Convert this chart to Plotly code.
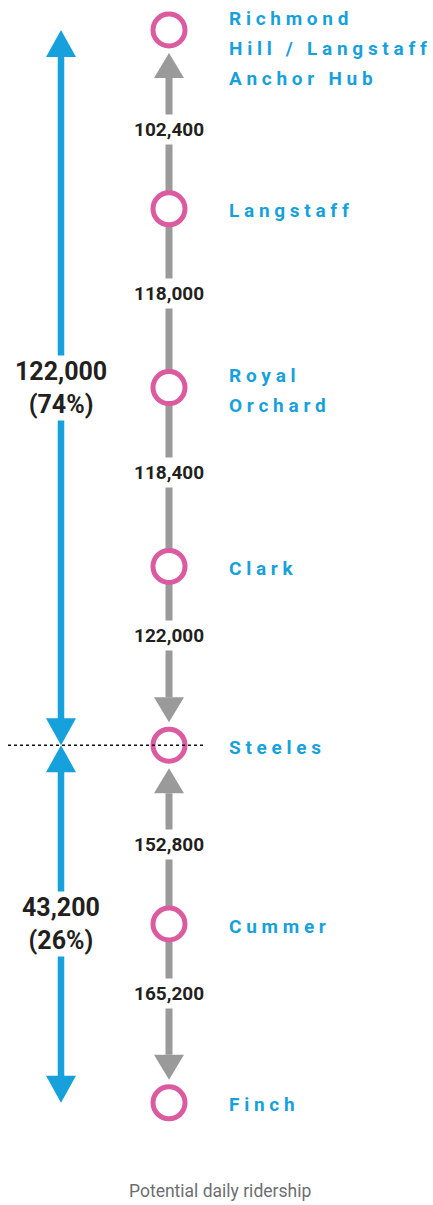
import plotly.graph_objects as go

# ---------------- data ----------------
stations = ["Richmond Hill / Langstaff Anchor Hub", "Langstaff", "Royal Orchard",
            "Clark", "Steeles", "Cummer", "Finch"]
station_label_lines = [["Richmond", "Hill / Langstaff", "Anchor Hub"], ["Langstaff"],
                       ["Royal", "Orchard"], ["Clark"], ["Steeles"], ["Cummer"], ["Finch"]]
segment_ridership = [102400, 118000, 118400, 122000, 152800, 165200]
segment_arrow = ["up", None, None, "down", "up", "down"]  # arrowhead end of each segment
split_station = "Steeles"
group_ridership = [122000, 43200]
group_share = [74, 26]
caption = "Potential daily ridership"

# ---------------- style ----------------
W, H = 433, 1205
TOP_PX, STEP_PX = 30, 178.8
LINE_X, GROUP_X, LABEL_X = 169, 61, 227
GRAY, BLUE, PINK, DARK = "#9A9A9B", "#17A1DC", "#DB5AA0", "#231F20"
FONT = "Roboto"


def u(px):
    return px / STEP_PX


fig = go.Figure()


def triangle(x, tip_y, direction, half_w, h_px, color):
    base = tip_y + u(h_px) if direction == "up" else tip_y - u(h_px)
    fig.add_trace(go.Scatter(x=[x - half_w, x + half_w, x, x - half_w],
                             y=[base, base, tip_y, base], mode="lines",
                             fill="toself", fillcolor=color, line=dict(width=0, color=color),
                             hoverinfo="skip", showlegend=False))


n = len(stations)
ys = list(range(n))
split_idx = stations.index(split_station)

# gray segments with arrows
seg_label_y = []
for i, val in enumerate(segment_ridership):
    ya, yb = ys[i], ys[i + 1]
    arrow = segment_arrow[i]
    top = ya + u(48) if arrow == "up" else ya
    bot = yb - u(48) if arrow == "down" else yb
    fig.add_trace(go.Scatter(x=[LINE_X, LINE_X], y=[top, bot], mode="lines",
                             line=dict(color=GRAY, width=7), hoverinfo="skip", showlegend=False))
    if arrow == "up":
        triangle(LINE_X, ya + u(23), "up", 15, 25, GRAY)
    elif arrow == "down":
        triangle(LINE_X, yb - u(23), "down", 15, 25, GRAY)
    s_top = ya + u(48) if arrow == "up" else ya + u(18)
    s_bot = yb - u(48) if arrow == "down" else yb - u(18)
    seg_label_y.append((s_top + s_bot) / 2 - u(5))

# blue group arrows
group_spans = [(ys[0], ys[split_idx]), (ys[split_idx], ys[-1])]
for (a, b) in group_spans:
    fig.add_trace(go.Scatter(x=[GROUP_X, GROUP_X], y=[a + u(26), b - u(26)], mode="lines",
                             line=dict(color=BLUE, width=6.5), hoverinfo="skip", showlegend=False))
    triangle(GROUP_X, a, "up", 15, 27, BLUE)
    triangle(GROUP_X, b, "down", 15, 27, BLUE)

# stations
fig.add_trace(go.Scatter(x=[LINE_X] * n, y=ys, mode="markers",
                         marker=dict(size=32, color="white", line=dict(color=PINK, width=5)),
                         hoverinfo="skip", showlegend=False))

# dashed split line
fig.add_trace(go.Scatter(x=[8, 205], y=[ys[split_idx]] * 2, mode="lines",
                         line=dict(color="#111111", width=1.5, dash="3px,3px"),
                         hoverinfo="skip", showlegend=False))

# ---------------- annotations ----------------
for val, y in zip(segment_ridership, seg_label_y):
    fig.add_annotation(x=LINE_X, y=y, text=f"{val:,}", showarrow=False,
                       font=dict(family=FONT, size=19, color=DARK, weight="bold"),
                       bgcolor="white", borderpad=3, xanchor="center", yanchor="middle")

for (a, b), val, share in zip(group_spans, group_ridership, group_share):
    fig.add_annotation(x=GROUP_X, y=(a + b) / 2, text=f"{val:,}<br>({share}%)", showarrow=False,
                       font=dict(family=FONT, size=25, color=DARK, weight="bold"),
                       bgcolor="white", borderpad=1, xanchor="center", yanchor="middle")


def spaced(s):
    return "\u00a0\u00a0\u00a0".join(" ".join(list(w)) for w in s.split(" "))


for y, lines in zip(ys, station_label_lines):
    first = u(2) if len(lines) == 1 else -u(12)
    for k, line in enumerate(lines):
        fig.add_annotation(x=LABEL_X, y=y + first + k * u(30), text=spaced(line), showarrow=False,
                           font=dict(family=FONT, size=19, color=BLUE, weight="bold"),
                           xanchor="left", yanchor="middle")

fig.add_annotation(x=220, y=u(1191 - TOP_PX), text=caption, showarrow=False,
                   font=dict(family=FONT, size=17.5, color="#6D6E71"),
                   xanchor="center", yanchor="middle")

fig.update_layout(
    width=W, height=H, margin=dict(l=0, r=0, t=0, b=0),
    paper_bgcolor="white", plot_bgcolor="white",
    xaxis=dict(range=[0, W], visible=False, fixedrange=True),
    yaxis=dict(range=[u(H - TOP_PX), -u(TOP_PX)], visible=False, fixedrange=True),
    showlegend=False,
)

fig.write_html("out.html", post_script="document.body.style.margin='0';",
               config={"displayModeBar": False})
